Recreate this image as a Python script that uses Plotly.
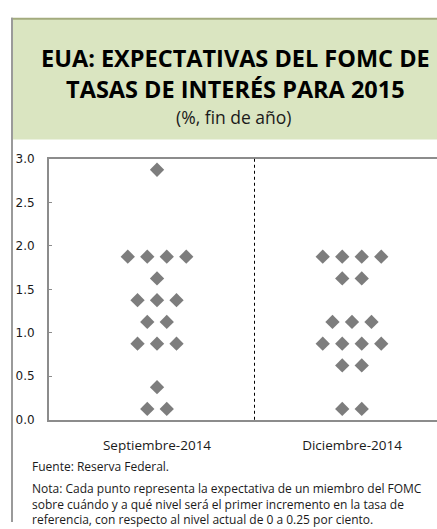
import plotly.graph_objects as go

# ---- data ----
categories = ["Septiembre-2014", "Diciembre-2014"]
sep_levels = [2.875, 1.875, 1.625, 1.375, 1.125, 0.875, 0.375, 0.125]
sep_counts = [1, 4, 1, 3, 2, 3, 1, 2]
dec_levels = [1.875, 1.625, 1.125, 0.875, 0.625, 0.125]
dec_counts = [4, 2, 3, 4, 2, 2]
y_ticks = [0.0, 0.5, 1.0, 1.5, 2.0, 2.5, 3.0]
y_tick_labels = ["0.0", "0.5", "1.0", "1.5", "2.0", "2.5", "3.0"]

title = "<b>EUA: EXPECTATIVAS DEL FOMC DE<br>TASAS DE INTERÉS PARA 2015</b>"
subtitle = "(%, fin de año)"
source = "Fuente: Reserva Federal."
note = ("Nota: Cada punto representa la expectativa de un miembro del FOMC<br>"
        "sobre cuándo y a qué nivel será el primer incremento en la tasa de<br>"
        "referencia, con respecto al nivel actual de 0 a 0.25 por ciento.")

W, H = 437, 529
SPACING = 0.1  # horizontal dot spacing in category units


def dot_positions(center, levels, counts):
    xs, ys = [], []
    for lv, n in zip(levels, counts):
        for j in range(n):
            xs.append(center + SPACING * (j - (n - 1) / 2))
            ys.append(lv)
    return xs, ys


fig = go.Figure()
for ci, (levels, counts) in enumerate([(sep_levels, sep_counts), (dec_levels, dec_counts)]):
    xs, ys = dot_positions(ci, levels, counts)
    fig.add_trace(go.Scatter(
        x=xs, y=ys, mode="markers",
        marker=dict(symbol="diamond", size=11, color="#7d7d7d", line=dict(width=0)),
        showlegend=False, hoverinfo="y"))

# plot area in pixels
px_left, px_right, px_top, px_bot = 49, 437, 156, 424
x0_dom = px_left / W
x1_dom = px_right / W
y0_dom = 1 - px_bot / H
y1_dom = 1 - px_top / H

fig.update_layout(
    width=W, height=H,
    margin=dict(l=0, r=0, t=0, b=0),
    paper_bgcolor="white", plot_bgcolor="white",
    xaxis=dict(domain=[x0_dom, x1_dom], range=[-0.554, 1.436],
               tickvals=[0, 1], ticktext=categories,
               showgrid=False, zeroline=False,
               showline=True, linecolor="#8c8c8c", linewidth=2, mirror=True,
               ticks="", tickfont=dict(family="Open Sans", size=13.5, color="#1a1a1a"),
               ticklabelstandoff=12),
    yaxis=dict(domain=[y0_dom, y1_dom], range=[0, 3.0],
               tickvals=y_ticks, ticktext=y_tick_labels,
               showgrid=False, zeroline=False,
               showline=True, linecolor="#8c8c8c", linewidth=2,
               ticks="inside", ticklen=3, tickcolor="#8c8c8c",
               tickfont=dict(family="DejaVu Sans", size=12, color="#1a1a1a"),
               ticklabelstandoff=10),
)

shapes = [
    # header band
    dict(type="rect", xref="paper", yref="paper",
         x0=12 / W, x1=1.0, y0=1 - 136 / H, y1=1 - 12 / H,
         fillcolor="#dae5c1", line=dict(width=0), layer="below"),
    # header top border
    dict(type="line", xref="paper", yref="paper",
         x0=11 / W, x1=1.0, y0=1 - 12 / H, y1=1 - 12 / H,
         line=dict(color="#a3ab7e", width=2)),
    # left frame line
    dict(type="line", xref="paper", yref="paper",
         x0=12 / W, x1=12 / W, y0=0, y1=1 - 11 / H,
         line=dict(color="#9a9a9a", width=2)),
    # dotted divider between the two meetings
    dict(type="line", xref="x", yref="y domain",
         x0=0.5, x1=0.5, y0=0, y1=1,
         line=dict(color="#000000", width=1, dash="dot")),
]
fig.update_layout(shapes=shapes)

annotations = [
    dict(xref="paper", yref="paper", x=235 / W, y=1 - 68 / H, xanchor="center", yanchor="middle",
         showarrow=False, text=title, align="center",
         font=dict(family="Open Sans", size=23.5, color="#000")),
    dict(xref="paper", yref="paper", x=234 / W, y=1 - 113 / H, xanchor="center", yanchor="middle",
         showarrow=False, text=subtitle,
         font=dict(family="Open Sans", size=17.5, color="#1a1a1a")),
    dict(xref="paper", yref="paper", x=30 / W, y=1 - 472 / H,
         xanchor="left", yanchor="middle", showarrow=False, text=source,
         font=dict(family="Open Sans", size=12, color="#1a1a1a")),
    dict(xref="paper", yref="paper", x=30 / W, y=1 - 484 / H,
         xanchor="left", yanchor="top", showarrow=False, text=note, align="left",
         font=dict(family="Open Sans", size=12, color="#1a1a1a")),
]
fig.update_layout(annotations=annotations)

fig.write_html("out.html", config={"displayModeBar": False},
               post_script="document.body.style.margin='0';document.body.style.overflow='hidden';")
